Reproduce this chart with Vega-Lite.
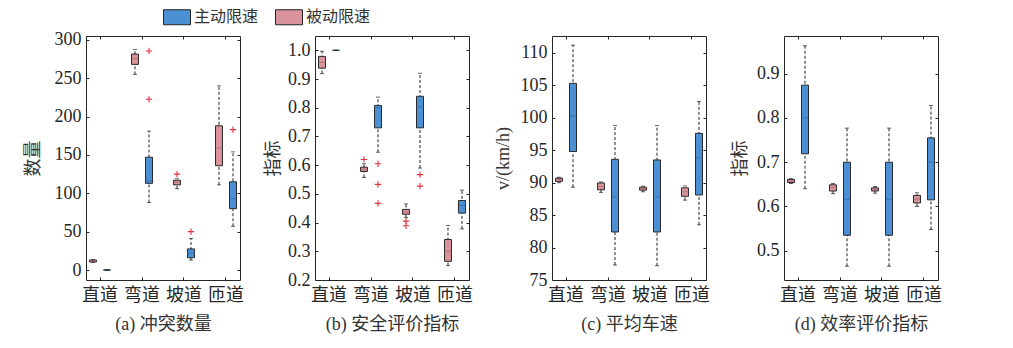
{
  "$schema": "https://vega.github.io/schema/vega-lite/v6.json",
  "padding": {"left": 23, "top": 9, "right": 5, "bottom": 5},
  "datasets": {
    "boxes": [
      {"panel":"a","cat":"直道","group":"被动限速","min":10,"q1":10.5,"med":12,"q3":13,"max":13.5},
      {"panel":"a","cat":"直道","group":"主动限速","min":0,"q1":0,"med":0,"q3":0,"max":0},
      {"panel":"a","cat":"弯道","group":"被动限速","min":255,"q1":268,"med":275,"q3":281.5,"max":287.5},
      {"panel":"a","cat":"弯道","group":"主动限速","min":88,"q1":113,"med":116,"q3":147,"max":181},
      {"panel":"a","cat":"坡道","group":"被动限速","min":106,"q1":111,"med":114.5,"q3":117,"max":119},
      {"panel":"a","cat":"坡道","group":"主动限速","min":13,"q1":16,"med":22,"q3":27.5,"max":41},
      {"panel":"a","cat":"匝道","group":"被动限速","min":111,"q1":136,"med":159,"q3":188,"max":240},
      {"panel":"a","cat":"匝道","group":"主动限速","min":57,"q1":80,"med":93,"q3":115,"max":154},
      {"panel":"b","cat":"直道","group":"被动限速","min":0.919,"q1":0.938,"med":0.958,"q3":0.979,"max":0.997},
      {"panel":"b","cat":"直道","group":"主动限速","min":1.0,"q1":1.0,"med":1.0,"q3":1.0,"max":1.0},
      {"panel":"b","cat":"弯道","group":"被动限速","min":0.557,"q1":0.578,"med":0.586,"q3":0.593,"max":0.605},
      {"panel":"b","cat":"弯道","group":"主动限速","min":0.645,"q1":0.73,"med":0.8,"q3":0.808,"max":0.837},
      {"panel":"b","cat":"坡道","group":"被动限速","min":0.418,"q1":0.429,"med":0.437,"q3":0.446,"max":0.465},
      {"panel":"b","cat":"坡道","group":"主动限速","min":0.59,"q1":0.73,"med":0.803,"q3":0.84,"max":0.92},
      {"panel":"b","cat":"匝道","group":"被动限速","min":0.25,"q1":0.265,"med":0.3,"q3":0.341,"max":0.39},
      {"panel":"b","cat":"匝道","group":"主动限速","min":0.378,"q1":0.433,"med":0.46,"q3":0.477,"max":0.513},
      {"panel":"c","cat":"直道","group":"被动限速","min":90.0,"q1":90.2,"med":90.45,"q3":90.7,"max":90.85},
      {"panel":"c","cat":"直道","group":"主动限速","min":89.3,"q1":94.8,"med":100.3,"q3":105.3,"max":111.2},
      {"panel":"c","cat":"弯道","group":"被动限速","min":88.5,"q1":88.9,"med":89.4,"q3":89.95,"max":90.1},
      {"panel":"c","cat":"弯道","group":"主动限速","min":77.3,"q1":82.4,"med":87.8,"q3":93.6,"max":98.8},
      {"panel":"c","cat":"坡道","group":"被动限速","min":88.6,"q1":88.85,"med":89.1,"q3":89.3,"max":89.45},
      {"panel":"c","cat":"坡道","group":"主动限速","min":77.2,"q1":82.4,"med":87.8,"q3":93.5,"max":98.8},
      {"panel":"c","cat":"匝道","group":"被动限速","min":87.3,"q1":87.9,"med":88.6,"q3":89.2,"max":89.5},
      {"panel":"c","cat":"匝道","group":"主动限速","min":83.5,"q1":88.1,"med":93.8,"q3":97.6,"max":102.5},
      {"panel":"d","cat":"直道","group":"被动限速","min":0.652,"q1":0.654,"med":0.657,"q3":0.661,"max":0.663},
      {"panel":"d","cat":"直道","group":"主动限速","min":0.64,"q1":0.719,"med":0.8,"q3":0.874,"max":0.963},
      {"panel":"d","cat":"弯道","group":"被动限速","min":0.629,"q1":0.635,"med":0.643,"q3":0.649,"max":0.652},
      {"panel":"d","cat":"弯道","group":"主动限速","min":0.465,"q1":0.535,"med":0.616,"q3":0.7,"max":0.777},
      {"panel":"d","cat":"坡道","group":"被动限速","min":0.63,"q1":0.635,"med":0.638,"q3":0.642,"max":0.645},
      {"panel":"d","cat":"坡道","group":"主动限速","min":0.465,"q1":0.535,"med":0.616,"q3":0.7,"max":0.777},
      {"panel":"d","cat":"匝道","group":"被动限速","min":0.6,"q1":0.608,"med":0.617,"q3":0.625,"max":0.631},
      {"panel":"d","cat":"匝道","group":"主动限速","min":0.548,"q1":0.615,"med":0.7,"q3":0.755,"max":0.828}
    ],
    "outliers": [
      {"panel":"a","cat":"弯道","group":"主动限速","v":285.5},
      {"panel":"a","cat":"弯道","group":"主动限速","v":222.5},
      {"panel":"a","cat":"坡道","group":"被动限速","v":125},
      {"panel":"a","cat":"坡道","group":"主动限速","v":50},
      {"panel":"a","cat":"匝道","group":"主动限速","v":183},
      {"panel":"b","cat":"弯道","group":"被动限速","v":0.62},
      {"panel":"b","cat":"弯道","group":"主动限速","v":0.605},
      {"panel":"b","cat":"弯道","group":"主动限速","v":0.533},
      {"panel":"b","cat":"弯道","group":"主动限速","v":0.467},
      {"panel":"b","cat":"坡道","group":"被动限速","v":0.405},
      {"panel":"b","cat":"坡道","group":"被动限速","v":0.389},
      {"panel":"b","cat":"坡道","group":"主动限速","v":0.567},
      {"panel":"b","cat":"坡道","group":"主动限速","v":0.527}
    ]
  },
  "spacing": 20,
  "hconcat": [
    {
      "width": 154, "height": 244,
      "resolve": {"axis": {"x": "independent", "y": "independent"}},
      "layer": [
        {"data": {"name": "boxes"}, "transform": [{"filter": "datum.panel === 'a'"}],
         "mark": {"type": "rule", "color": "#222", "strokeDash": [3, 2], "strokeWidth": 1},
         "encoding": {
           "x": {"field": "cat", "type": "nominal", "sort": ["直道","弯道","坡道","匝道"], "scale": {"paddingInner": 0.333, "paddingOuter": 0}, "axis": {"orient": "bottom", "title": "(a) 冲突数量", "labelAngle": 0, "labelPadding": 9, "titlePadding": 11}},
           "xOffset": {"field": "group", "type": "nominal", "sort": ["被动限速","主动限速"], "scale": {"paddingInner": 0, "paddingOuter": 0}},
           "y": {"field": "min", "type": "quantitative", "scale": {"domain": [-13, 305], "nice": false, "zero": false}, "axis": {"orient": "left", "title": "数量", "values": [0,50,100,150,200,250,300], "labelPadding": 8, "titlePadding": 12}},
           "y2": {"field": "max"}
         }},
        {"data": {"name": "boxes"}, "transform": [{"filter": "datum.panel === 'a'"}],
         "mark": {"type": "bar", "width": 7, "stroke": "#2a2a2a", "strokeWidth": 1},
         "encoding": {
           "x": {"field": "cat", "type": "nominal", "sort": ["直道","弯道","坡道","匝道"], "axis": {"orient": "top", "labels": false, "title": null}},
           "xOffset": {"field": "group", "type": "nominal", "sort": ["被动限速","主动限速"]},
           "y": {"field": "q1", "type": "quantitative", "axis": {"orient": "right", "labels": false, "title": null, "values": [0,50,100,150,200,250,300]}},
           "y2": {"field": "q3"},
           "color": {"field": "group", "type": "nominal", "scale": {"domain": ["主动限速","被动限速"], "range": ["#4a90d2","#d8939b"]}, "legend": {"title": null}}
         }},
        {"data": {"name": "boxes"}, "transform": [{"filter": "datum.panel === 'a'"}],
         "mark": {"type": "tick", "size": 7, "thickness": 1},
         "encoding": {
           "x": {"field": "cat", "type": "nominal", "sort": ["直道","弯道","坡道","匝道"], "axis": null},
           "xOffset": {"field": "group", "type": "nominal", "sort": ["被动限速","主动限速"]},
           "y": {"field": "med", "type": "quantitative", "axis": null},
           "color": {"condition": {"test": "datum.group === '主动限速'", "value": "#2f6aa6"}, "value": "#a8606a"}
         }},
        {"data": {"name": "boxes"}, "transform": [{"filter": "datum.panel === 'a'"}],
         "mark": {"type": "tick", "size": 4, "thickness": 1, "color": "#222"},
         "encoding": {
           "x": {"field": "cat", "type": "nominal", "sort": ["直道","弯道","坡道","匝道"], "axis": null},
           "xOffset": {"field": "group", "type": "nominal", "sort": ["被动限速","主动限速"]},
           "y": {"field": "min", "type": "quantitative", "axis": null}
         }},
        {"data": {"name": "boxes"}, "transform": [{"filter": "datum.panel === 'a'"}],
         "mark": {"type": "tick", "size": 4, "thickness": 1, "color": "#222"},
         "encoding": {
           "x": {"field": "cat", "type": "nominal", "sort": ["直道","弯道","坡道","匝道"], "axis": null},
           "xOffset": {"field": "group", "type": "nominal", "sort": ["被动限速","主动限速"]},
           "y": {"field": "max", "type": "quantitative", "axis": null}
         }},
        {"data": {"name": "outliers"}, "transform": [{"filter": "datum.panel === 'a'"}],
         "mark": {"type": "point", "shape": "M-1,0L1,0M0,-1L0,1", "size": 40, "filled": false, "stroke": "#e0303a", "strokeWidth": 1.1, "opacity": 1},
         "encoding": {
           "x": {"field": "cat", "type": "nominal", "sort": ["直道","弯道","坡道","匝道"], "axis": null},
           "xOffset": {"field": "group", "type": "nominal", "sort": ["被动限速","主动限速"]},
           "y": {"field": "v", "type": "quantitative", "axis": null}
         }}
      ]
    },
    {
      "width": 154, "height": 244,
      "resolve": {"axis": {"x": "independent", "y": "independent"}},
      "layer": [
        {"data": {"name": "boxes"}, "transform": [{"filter": "datum.panel === 'b'"}],
         "mark": {"type": "rule", "color": "#222", "strokeDash": [3, 2], "strokeWidth": 1},
         "encoding": {
           "x": {"field": "cat", "type": "nominal", "sort": ["直道","弯道","坡道","匝道"], "scale": {"paddingInner": 0.333, "paddingOuter": 0}, "axis": {"orient": "bottom", "title": "(b) 安全评价指标", "labelAngle": 0, "labelPadding": 9, "titlePadding": 11}},
           "xOffset": {"field": "group", "type": "nominal", "sort": ["被动限速","主动限速"], "scale": {"paddingInner": 0, "paddingOuter": 0}},
           "y": {"field": "min", "type": "quantitative", "scale": {"domain": [0.2, 1.05], "nice": false, "zero": false}, "axis": {"orient": "left", "title": "指标", "values": [0.2,0.3,0.4,0.5,0.6,0.7,0.8,0.9,1.0], "format": ".1f", "labelPadding": 8, "titlePadding": 5}},
           "y2": {"field": "max"}
         }},
        {"data": {"name": "boxes"}, "transform": [{"filter": "datum.panel === 'b'"}],
         "mark": {"type": "bar", "width": 7, "stroke": "#2a2a2a", "strokeWidth": 1},
         "encoding": {
           "x": {"field": "cat", "type": "nominal", "sort": ["直道","弯道","坡道","匝道"], "axis": {"orient": "top", "labels": false, "title": null}},
           "xOffset": {"field": "group", "type": "nominal", "sort": ["被动限速","主动限速"]},
           "y": {"field": "q1", "type": "quantitative", "axis": {"orient": "right", "labels": false, "title": null, "values": [0.2,0.3,0.4,0.5,0.6,0.7,0.8,0.9,1.0]}},
           "y2": {"field": "q3"},
           "color": {"field": "group", "type": "nominal", "scale": {"domain": ["主动限速","被动限速"], "range": ["#4a90d2","#d8939b"]}, "legend": {"title": null}}
         }},
        {"data": {"name": "boxes"}, "transform": [{"filter": "datum.panel === 'b'"}],
         "mark": {"type": "tick", "size": 7, "thickness": 1},
         "encoding": {
           "x": {"field": "cat", "type": "nominal", "sort": ["直道","弯道","坡道","匝道"], "axis": null},
           "xOffset": {"field": "group", "type": "nominal", "sort": ["被动限速","主动限速"]},
           "y": {"field": "med", "type": "quantitative", "axis": null},
           "color": {"condition": {"test": "datum.group === '主动限速'", "value": "#2f6aa6"}, "value": "#a8606a"}
         }},
        {"data": {"name": "boxes"}, "transform": [{"filter": "datum.panel === 'b'"}],
         "mark": {"type": "tick", "size": 4, "thickness": 1, "color": "#222"},
         "encoding": {
           "x": {"field": "cat", "type": "nominal", "sort": ["直道","弯道","坡道","匝道"], "axis": null},
           "xOffset": {"field": "group", "type": "nominal", "sort": ["被动限速","主动限速"]},
           "y": {"field": "min", "type": "quantitative", "axis": null}
         }},
        {"data": {"name": "boxes"}, "transform": [{"filter": "datum.panel === 'b'"}],
         "mark": {"type": "tick", "size": 4, "thickness": 1, "color": "#222"},
         "encoding": {
           "x": {"field": "cat", "type": "nominal", "sort": ["直道","弯道","坡道","匝道"], "axis": null},
           "xOffset": {"field": "group", "type": "nominal", "sort": ["被动限速","主动限速"]},
           "y": {"field": "max", "type": "quantitative", "axis": null}
         }},
        {"data": {"name": "outliers"}, "transform": [{"filter": "datum.panel === 'b'"}],
         "mark": {"type": "point", "shape": "M-1,0L1,0M0,-1L0,1", "size": 40, "filled": false, "stroke": "#e0303a", "strokeWidth": 1.1, "opacity": 1},
         "encoding": {
           "x": {"field": "cat", "type": "nominal", "sort": ["直道","弯道","坡道","匝道"], "axis": null},
           "xOffset": {"field": "group", "type": "nominal", "sort": ["被动限速","主动限速"]},
           "y": {"field": "v", "type": "quantitative", "axis": null}
         }}
      ]
    },
    {
      "width": 154, "height": 244,
      "resolve": {"axis": {"x": "independent", "y": "independent"}},
      "layer": [
        {"data": {"name": "boxes"}, "transform": [{"filter": "datum.panel === 'c'"}],
         "mark": {"type": "rule", "color": "#222", "strokeDash": [3, 2], "strokeWidth": 1},
         "encoding": {
           "x": {"field": "cat", "type": "nominal", "sort": ["直道","弯道","坡道","匝道"], "scale": {"paddingInner": 0.333, "paddingOuter": 0}, "axis": {"orient": "bottom", "title": "(c) 平均车速", "labelAngle": 0, "labelPadding": 9, "titlePadding": 11}},
           "xOffset": {"field": "group", "type": "nominal", "sort": ["被动限速","主动限速"], "scale": {"paddingInner": 0, "paddingOuter": 0}},
           "y": {"field": "min", "type": "quantitative", "scale": {"domain": [75, 112.6], "nice": false, "zero": false}, "axis": {"orient": "left", "title": "v/(km/h)", "values": [75,80,85,90,95,100,105,110], "labelPadding": 8, "titlePadding": 8}},
           "y2": {"field": "max"}
         }},
        {"data": {"name": "boxes"}, "transform": [{"filter": "datum.panel === 'c'"}],
         "mark": {"type": "bar", "width": 7, "stroke": "#2a2a2a", "strokeWidth": 1},
         "encoding": {
           "x": {"field": "cat", "type": "nominal", "sort": ["直道","弯道","坡道","匝道"], "axis": {"orient": "top", "labels": false, "title": null}},
           "xOffset": {"field": "group", "type": "nominal", "sort": ["被动限速","主动限速"]},
           "y": {"field": "q1", "type": "quantitative", "axis": {"orient": "right", "labels": false, "title": null, "values": [75,80,85,90,95,100,105,110]}},
           "y2": {"field": "q3"},
           "color": {"field": "group", "type": "nominal", "scale": {"domain": ["主动限速","被动限速"], "range": ["#4a90d2","#d8939b"]}, "legend": {"title": null}}
         }},
        {"data": {"name": "boxes"}, "transform": [{"filter": "datum.panel === 'c'"}],
         "mark": {"type": "tick", "size": 7, "thickness": 1},
         "encoding": {
           "x": {"field": "cat", "type": "nominal", "sort": ["直道","弯道","坡道","匝道"], "axis": null},
           "xOffset": {"field": "group", "type": "nominal", "sort": ["被动限速","主动限速"]},
           "y": {"field": "med", "type": "quantitative", "axis": null},
           "color": {"condition": {"test": "datum.group === '主动限速'", "value": "#2f6aa6"}, "value": "#a8606a"}
         }},
        {"data": {"name": "boxes"}, "transform": [{"filter": "datum.panel === 'c'"}],
         "mark": {"type": "tick", "size": 4, "thickness": 1, "color": "#222"},
         "encoding": {
           "x": {"field": "cat", "type": "nominal", "sort": ["直道","弯道","坡道","匝道"], "axis": null},
           "xOffset": {"field": "group", "type": "nominal", "sort": ["被动限速","主动限速"]},
           "y": {"field": "min", "type": "quantitative", "axis": null}
         }},
        {"data": {"name": "boxes"}, "transform": [{"filter": "datum.panel === 'c'"}],
         "mark": {"type": "tick", "size": 4, "thickness": 1, "color": "#222"},
         "encoding": {
           "x": {"field": "cat", "type": "nominal", "sort": ["直道","弯道","坡道","匝道"], "axis": null},
           "xOffset": {"field": "group", "type": "nominal", "sort": ["被动限速","主动限速"]},
           "y": {"field": "max", "type": "quantitative", "axis": null}
         }}
      ]
    },
    {
      "width": 154, "height": 244,
      "resolve": {"axis": {"x": "independent", "y": "independent"}},
      "layer": [
        {"data": {"name": "boxes"}, "transform": [{"filter": "datum.panel === 'd'"}],
         "mark": {"type": "rule", "color": "#222", "strokeDash": [3, 2], "strokeWidth": 1},
         "encoding": {
           "x": {"field": "cat", "type": "nominal", "sort": ["直道","弯道","坡道","匝道"], "scale": {"paddingInner": 0.333, "paddingOuter": 0}, "axis": {"orient": "bottom", "title": "(d) 效率评价指标", "labelAngle": 0, "labelPadding": 9, "titlePadding": 11}},
           "xOffset": {"field": "group", "type": "nominal", "sort": ["被动限速","主动限速"], "scale": {"paddingInner": 0, "paddingOuter": 0}},
           "y": {"field": "min", "type": "quantitative", "scale": {"domain": [0.434, 0.985], "nice": false, "zero": false}, "axis": {"orient": "left", "title": "指标", "values": [0.5,0.6,0.7,0.8,0.9], "format": ".1f", "labelPadding": 8, "titlePadding": 7.5}},
           "y2": {"field": "max"}
         }},
        {"data": {"name": "boxes"}, "transform": [{"filter": "datum.panel === 'd'"}],
         "mark": {"type": "bar", "width": 7, "stroke": "#2a2a2a", "strokeWidth": 1},
         "encoding": {
           "x": {"field": "cat", "type": "nominal", "sort": ["直道","弯道","坡道","匝道"], "axis": {"orient": "top", "labels": false, "title": null}},
           "xOffset": {"field": "group", "type": "nominal", "sort": ["被动限速","主动限速"]},
           "y": {"field": "q1", "type": "quantitative", "axis": {"orient": "right", "labels": false, "title": null, "values": [0.5,0.6,0.7,0.8,0.9]}},
           "y2": {"field": "q3"},
           "color": {"field": "group", "type": "nominal", "scale": {"domain": ["主动限速","被动限速"], "range": ["#4a90d2","#d8939b"]}, "legend": {"title": null}}
         }},
        {"data": {"name": "boxes"}, "transform": [{"filter": "datum.panel === 'd'"}],
         "mark": {"type": "tick", "size": 7, "thickness": 1},
         "encoding": {
           "x": {"field": "cat", "type": "nominal", "sort": ["直道","弯道","坡道","匝道"], "axis": null},
           "xOffset": {"field": "group", "type": "nominal", "sort": ["被动限速","主动限速"]},
           "y": {"field": "med", "type": "quantitative", "axis": null},
           "color": {"condition": {"test": "datum.group === '主动限速'", "value": "#2f6aa6"}, "value": "#a8606a"}
         }},
        {"data": {"name": "boxes"}, "transform": [{"filter": "datum.panel === 'd'"}],
         "mark": {"type": "tick", "size": 4, "thickness": 1, "color": "#222"},
         "encoding": {
           "x": {"field": "cat", "type": "nominal", "sort": ["直道","弯道","坡道","匝道"], "axis": null},
           "xOffset": {"field": "group", "type": "nominal", "sort": ["被动限速","主动限速"]},
           "y": {"field": "min", "type": "quantitative", "axis": null}
         }},
        {"data": {"name": "boxes"}, "transform": [{"filter": "datum.panel === 'd'"}],
         "mark": {"type": "tick", "size": 4, "thickness": 1, "color": "#222"},
         "encoding": {
           "x": {"field": "cat", "type": "nominal", "sort": ["直道","弯道","坡道","匝道"], "axis": null},
           "xOffset": {"field": "group", "type": "nominal", "sort": ["被动限速","主动限速"]},
           "y": {"field": "max", "type": "quantitative", "axis": null}
         }}
      ]
    }
  ],
  "config": {
    "view": {"stroke": "#262626", "strokeWidth": 1},
    "axis": {
      "domain": false, "grid": false, "ticks": true, "tickSize": -3, "tickColor": "#262626", "tickWidth": 1,
      "labelFont": "Liberation Serif, Noto Sans CJK SC", "labelFontSize": 18, "labelColor": "#262626",
      "titleFont": "Liberation Serif, Noto Sans CJK SC", "titleFontSize": 18, "titleFontWeight": "normal", "titleColor": "#333333"
    },
    "legend": {
      "orient": "none", "legendX": 83, "legendY": -27, "direction": "horizontal",
      "symbolType": "M-1.8,-1H1.8V1H-1.8Z", "symbolSize": 225, "symbolStrokeColor": "#222", "symbolStrokeWidth": 1, "symbolOpacity": 1,
      "labelFont": "Noto Sans CJK SC", "labelFontSize": 16, "labelColor": "#333", "labelOffset": 9, "columnPadding": 14, "padding": 0
    }
  }
}
